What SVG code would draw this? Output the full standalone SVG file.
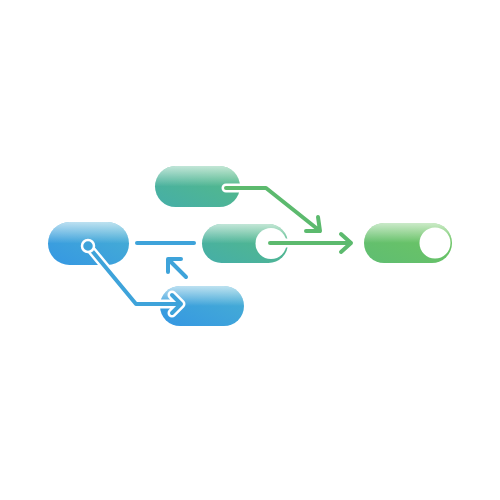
<svg xmlns="http://www.w3.org/2000/svg" width="500" height="500" viewBox="0 0 500 500">
<defs>
<linearGradient id="blue" x1="0" y1="1" x2="1" y2="0">
<stop offset="0" stop-color="#3597e3"/>
<stop offset="1" stop-color="#48b0d2"/>
</linearGradient>
<linearGradient id="teal" x1="0" y1="1" x2="1" y2="0">
<stop offset="0" stop-color="#45aea8"/>
<stop offset="1" stop-color="#56bb84"/>
</linearGradient>
<linearGradient id="green" x1="0" y1="1" x2="1" y2="0">
<stop offset="0" stop-color="#5fbd72"/>
<stop offset="1" stop-color="#6fc660"/>
</linearGradient>
<linearGradient id="shine" x1="0" y1="0" x2="0" y2="1">
<stop offset="0" stop-color="#fff" stop-opacity="0.65"/>
<stop offset="0.5" stop-color="#fff" stop-opacity="0"/>
</linearGradient>
<style>
.sh{fill:url(#shine)}
.halo{fill:none;stroke:#fff;stroke-width:9;stroke-linecap:round;stroke-linejoin:round}
.b{fill:none;stroke:#3ea3da;stroke-width:4;stroke-linecap:round;stroke-linejoin:round}
.g{fill:none;stroke:#5cba6e;stroke-width:4;stroke-linecap:round;stroke-linejoin:round}
</style>
</defs>
<g id="node1"><rect fill="url(#blue)" x="48" y="222" width="81" height="43" rx="21.5"/><rect class="sh" x="48" y="222" width="81" height="43" rx="21.5"/></g>
<g id="node2"><rect fill="url(#teal)" x="155" y="166" width="85" height="41" rx="20.5"/><rect class="sh" x="155" y="166" width="85" height="41" rx="20.5"/></g>
<g id="node3"><rect fill="url(#teal)" x="202" y="224" width="86" height="39" rx="19.5"/><rect class="sh" x="202" y="224" width="86" height="39" rx="19.5"/><circle cx="271" cy="243.5" r="15.5" fill="#fff"/></g>
<g id="node4"><rect fill="url(#blue)" x="160" y="286" width="84" height="40" rx="20"/><rect class="sh" x="160" y="286" width="84" height="40" rx="20"/></g>
<g id="node5"><rect fill="url(#green)" x="364" y="223" width="88" height="40" rx="20"/><rect class="sh" x="364" y="223" width="88" height="40" rx="20"/><circle cx="435" cy="243" r="15.5" fill="#fff"/></g>
<g id="connectors">
<line class="b" x1="137" y1="243" x2="194" y2="243"/>
<path class="b" d="M186 277 L170 261 M168 272 L168 259 L181 259"/>
<path class="halo" d="M88 246 L136 304 L181 304 M172 295 L181 304 L172 313"/>
<path class="b" d="M88 246 L136 304 L181 304 M172 295 L181 304 L172 313"/>
<circle cx="88" cy="246" r="6" fill="#3ea3da" stroke="#fff" stroke-width="2.5"/>
<path class="halo" d="M226 188 L266 188 L320 231"/>
<path class="g" d="M226 188 L266 188 L320 231 M318 217 L320 231 L306 231"/>
<path class="halo" d="M270 243 L288 243" stroke-width="8"/>
<path class="g" d="M270 243 L351 243 M341 234 L351 243 L341 252"/>
</g>
</svg>
